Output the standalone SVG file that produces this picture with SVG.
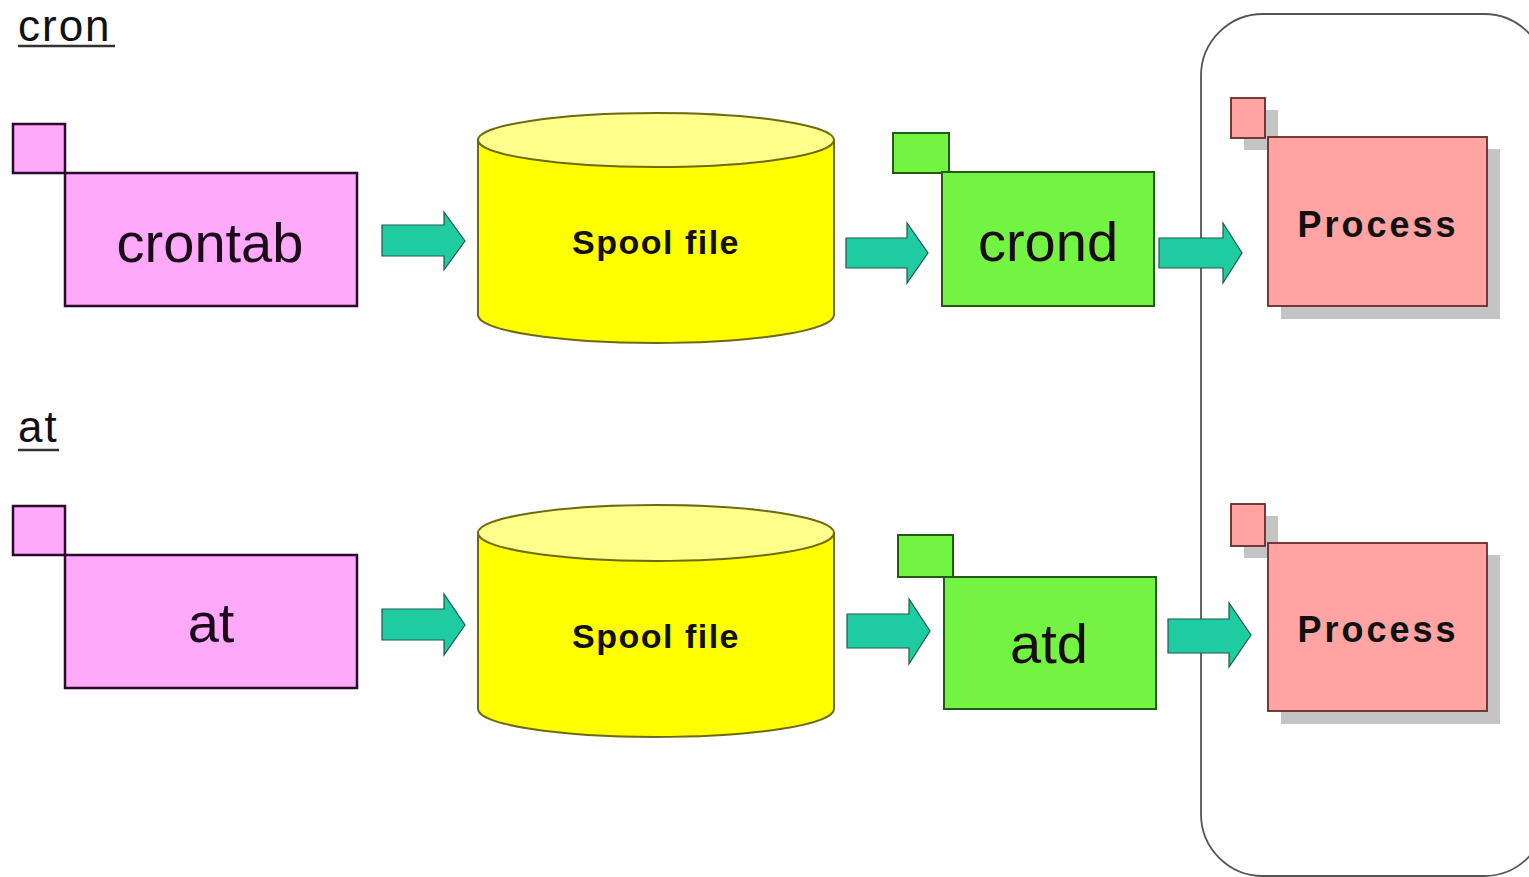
<svg xmlns="http://www.w3.org/2000/svg" width="1529" height="877" viewBox="0 0 1529 877">
  <style>
    .title { font-family: "Liberation Sans", Arial, sans-serif; font-size: 44px; letter-spacing: 2px; fill: #111; }
    .uline { stroke: #333; stroke-width: 2.5; }
    .label { font-family: "Liberation Sans", Arial, sans-serif; font-size: 56px; fill: #1a0a1a; text-anchor: middle; }
    .bold { font-family: "Liberation Sans", Arial, sans-serif; font-weight: bold; fill: #111; text-anchor: middle; }
    .pink { fill: #FFA9FB; stroke: #2a0a2a; stroke-width: 2.5; }
    .green { fill: #74F442; stroke: #245a14; stroke-width: 2; }
    .salmon { fill: #FFA4A2; stroke: #6a2a2a; stroke-width: 1.8; }
    .shadow { fill: #c4c4c4; }
    .cylBody { fill: #FFFF00; stroke: #6e6a10; stroke-width: 2; }
    .cylTop { fill: #FFFF8C; stroke: #6e6a10; stroke-width: 2; }
    .arrow { fill: #1FCBA0; stroke: #1d5a48; stroke-width: 1.2; }
    .frame { fill: none; stroke: #555; stroke-width: 1.8; }
  </style>

  <rect width="1529" height="877" fill="#ffffff"/>

  <!-- section headings -->
  <g id="heading-cron">
    <text class="title" x="18" y="41">cron</text>
    <line class="uline" x1="18" y1="46" x2="115" y2="46"/>
  </g>
  <g id="heading-at">
    <text class="title" x="18" y="442">at</text>
    <line class="uline" x1="18" y1="450" x2="59" y2="450"/>
  </g>

  <!-- process area -->
  <g id="process-area">
    <rect class="frame" x="1201" y="14" width="345" height="862" rx="62" ry="62"/>
  </g>

  <!-- cron row -->
  <g id="crontab">
    <rect class="pink" x="13" y="124" width="52" height="49"/>
    <rect class="pink" x="65" y="173" width="292" height="133"/>
    <text class="label" x="210" y="262">crontab</text>
  </g>

  <g id="spool-cron">
    <path class="cylBody" d="M478,140 L478,315 A178,28 0 0 0 834,315 L834,140 Z"/>
    <ellipse class="cylTop" cx="656" cy="140" rx="178" ry="27"/>
    <text class="bold" x="656" y="254" font-size="34" letter-spacing="1.5">Spool file</text>
  </g>

  <g id="crond">
    <rect class="green" x="893" y="133" width="56" height="40"/>
    <rect class="green" x="942" y="172" width="212" height="134"/>
    <text class="label" x="1048" y="261">crond</text>
  </g>

  <g id="process-cron">
    <rect class="shadow" x="1244" y="110" width="34" height="40"/>
    <rect class="shadow" x="1281" y="149" width="219" height="170"/>
    <rect class="salmon" x="1231" y="98" width="34" height="40"/>
    <rect class="salmon" x="1268" y="137" width="219" height="169"/>
    <text class="bold" x="1378" y="237" font-size="36" letter-spacing="3">Process</text>
  </g>

  <!-- at row -->
  <g id="at">
    <rect class="pink" x="13" y="506" width="52" height="49"/>
    <rect class="pink" x="65" y="555" width="292" height="133"/>
    <text class="label" x="211" y="642">at</text>
  </g>

  <g id="spool-at">
    <path class="cylBody" d="M478,533 L478,709 A178,28 0 0 0 834,709 L834,533 Z"/>
    <ellipse class="cylTop" cx="656" cy="533" rx="178" ry="28"/>
    <text class="bold" x="656" y="648" font-size="34" letter-spacing="1.5">Spool file</text>
  </g>

  <g id="atd">
    <rect class="green" x="898" y="535" width="55" height="42"/>
    <rect class="green" x="944" y="577" width="212" height="132"/>
    <text class="label" x="1049" y="663">atd</text>
  </g>

  <g id="process-at">
    <rect class="shadow" x="1244" y="516" width="34" height="42"/>
    <rect class="shadow" x="1281" y="555" width="219" height="169"/>
    <rect class="salmon" x="1231" y="504" width="34" height="42"/>
    <rect class="salmon" x="1268" y="543" width="219" height="168"/>
    <text class="bold" x="1378" y="642" font-size="36" letter-spacing="3">Process</text>
  </g>

  <!-- block arrows between stages -->
  <g id="connectors">
    <path class="arrow" d="M382,225 L444,225 L444,212 L465,241 L444,270 L444,256 L382,256 Z"/>
    <path class="arrow" d="M846,238 L907,238 L907,223 L928,253 L907,283 L907,268 L846,268 Z"/>
    <path class="arrow" d="M1159,238 L1223,238 L1223,223 L1242,253 L1223,283 L1223,268 L1159,268 Z"/>
    <path class="arrow" d="M382,609 L444,609 L444,594 L465,625 L444,655 L444,640 L382,640 Z"/>
    <path class="arrow" d="M847,614 L909,614 L909,599 L930,631 L909,664 L909,648 L847,648 Z"/>
    <path class="arrow" d="M1168,619 L1229,619 L1229,603 L1251,635 L1229,667 L1229,653 L1168,653 Z"/>
  </g>
</svg>
